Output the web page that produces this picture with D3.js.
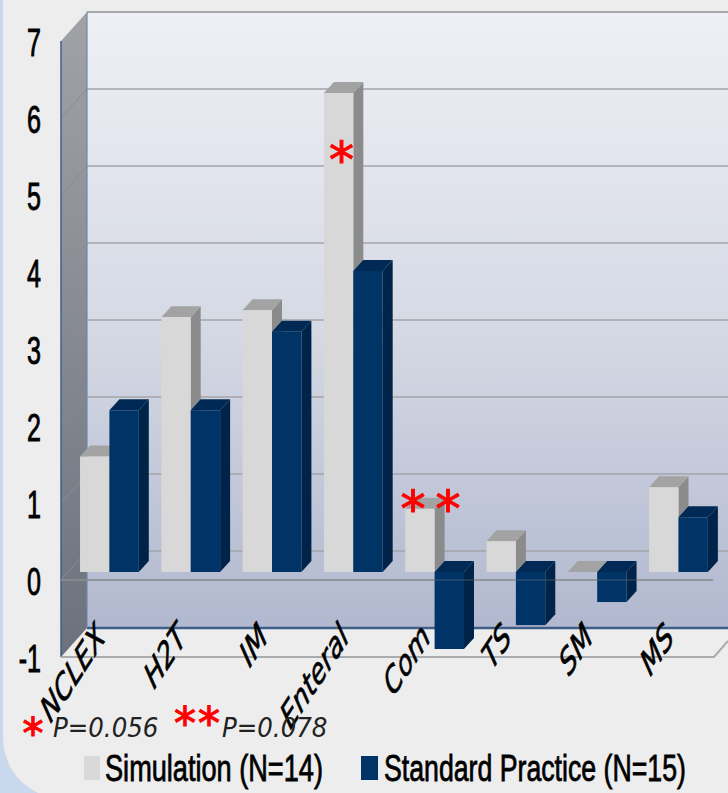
<!DOCTYPE html>
<html><head><meta charset="utf-8">
<script src="https://cdn.jsdelivr.net/npm/d3@7"></script>
<style>html,body{margin:0;padding:0;background:#c9d8ec;overflow:hidden}svg{display:block}</style>
</head><body><svg id="c" width="728" height="793"></svg>
<script>
const categories=["NCLEX","H2T","IM","Enteral","Com","TS","SM","MS"];
const simulation=[1.5,3.31,3.4,6.22,0.82,0.4,0.0,1.1];
const standard=[2.1,2.1,3.12,3.91,-1.0,-0.69,-0.39,0.71];
const yTicks=[-1,0,1,2,3,4,5,6,7];
const seriesNames=["Simulation (N=14)","Standard Practice (N=15)"];
const notes=["P=0.056","P=0.078"];

const svg=d3.select("#c");
const defs=svg.append("defs");
function grad(id,stops){const g=defs.append("linearGradient").attr("id",id).attr("x1",0).attr("y1",0).attr("x2",0).attr("y2",1);
 stops.forEach(s=>g.append("stop").attr("offset",s[0]).attr("stop-color",s[1]));}
grad("wall",[[0,"#eef0f5"],[.5,"#d6dae5"],[1,"#b1b8cf"]]);
grad("side",[[0,"#a0a2a6"],[1,"#6c717d"]]);

// panel
svg.append("path").attr("fill","#ededed")
 .attr("d","M3,0H728V793H38Q3,775 3,735Z");

const y=d3.scaleLinear().domain([-1,7]).range([628,12]); // back wall
const dxWall=-26, dyWall=29;
const dxBar=10, dyBar=-11;
const barShift=21;
const x0=d3.scaleBand().domain(categories).range([71.9,716]).paddingInner(0.277).paddingOuter(0.1);
const x1=d3.scaleBand().domain([0,1]).range([0,x0.bandwidth()]);
const xL=87,xR=728;

svg.append("rect").attr("x",xL).attr("y",y(7)).attr("width",xR-xL).attr("height",y(-1)-y(7)).attr("fill","url(#wall)");
svg.append("line").attr("x1",xL).attr("x2",xR).attr("y1",y(7)).attr("y2",y(7)).attr("stroke","#a6a8ac").attr("stroke-width",2);
svg.selectAll(".g").data(yTicks.filter(d=>d>-1&&d<7)).join("line")
 .attr("x1",xL).attr("x2",xR).attr("y1",d=>y(d)).attr("y2",d=>y(d)).attr("stroke","#a3a5a9").attr("stroke-width",1.4);
svg.append("line").attr("x1",xL).attr("x2",xR).attr("y1",y(-1)).attr("y2",y(-1)).attr("stroke","#3f5f88").attr("stroke-width",2.4);
const pt=(a)=>a.map(p=>p.join(",")).join(" ");
svg.append("polygon").attr("points",pt([[61,y(7)+dyWall],[xL,y(7)],[xL,y(-1)],[61,y(-1)+dyWall]])).attr("fill","url(#side)");
svg.selectAll(".d").data(yTicks.filter(d=>d>-1&&d<7)).join("line")
 .attr("x1",xL).attr("x2",61).attr("y1",d=>y(d)).attr("y2",d=>y(d)+dyWall).attr("stroke","#8a8c90").attr("stroke-width",1);
svg.append("line").attr("x1",61).attr("x2",61).attr("y1",y(7)+dyWall).attr("y2",y(-1)+dyWall).attr("stroke","#3f5f88").attr("stroke-width",1.5);
svg.append("line").attr("x1",xL).attr("x2",xL).attr("y1",y(7)).attr("y2",y(-1)).attr("stroke","#6f88a8").attr("stroke-width",1.2);
svg.append("polyline").attr("fill","none").attr("stroke","#a9abad").attr("stroke-width",2)
 .attr("points",pt([[61,y(-1)+dyWall],[714,y(-1)+dyWall],[728,y(-1)+dyWall-16]]));
svg.append("line").attr("x1",61).attr("x2",713).attr("y1",y(0)+dyWall).attr("y2",y(0)+dyWall).attr("stroke","#8b8d90").attr("stroke-width",1.6);

const colours=[{f:"#d8d8d8",t:"#a3a3a3",s:"#8b8b8b"},{f:"#003366",t:"#002a55",s:"#00234a"}];
function bar(cat,i,v){
 const c=colours[i], xa=x0(cat)+x1(i), xb=xa+x1.bandwidth();
 const yv=y(v)+barShift, y0=y(0)+barShift;
 const top=Math.min(yv,y0), bot=Math.max(yv,y0);
 const g=svg.append("g");
 g.append("polygon").attr("fill",c.s).attr("points",pt([[xb,top],[xb+dxBar,top+dyBar],[xb+dxBar,bot+dyBar],[xb,bot]]));
 g.append("polygon").attr("fill",c.t).attr("points",pt([[xa,top],[xa+dxBar,top+dyBar],[xb+dxBar,top+dyBar],[xb,top]]));
 if(bot>top) g.append("rect").attr("x",xa).attr("y",top).attr("width",xb-xa).attr("height",bot-top).attr("fill",c.f);
}
categories.forEach((c,k)=>{bar(c,0,simulation[k]);bar(c,1,standard[k]);});
svg.append("line").attr("x1",61).attr("x2",713).attr("y1",y(0)+dyWall).attr("y2",y(0)+dyWall).attr("stroke","#8b8d90").attr("stroke-width",1.2).attr("opacity",.45);

// y tick labels, condensed
svg.selectAll(".yt").data(yTicks).join("text")
 .attr("transform",d=>`translate(41,${y(d)+dyWall+14.5}) scale(0.66,1)`)
 .attr("text-anchor","end").attr("fill","#000")
 .attr("font-family","'Liberation Sans',sans-serif").attr("font-size",38).attr("stroke","#000").attr("stroke-width",.9)
 .text(d=>d);

// category labels, stretched vertically
svg.selectAll(".xt").data(categories).join("text")
 .attr("transform",d=>`translate(${x0(d)+x0.bandwidth()/2-3},${y(-1)+11}) scale(0.82,1.25) rotate(-45)`)
 .attr("text-anchor","end").attr("fill","#000").attr("stroke","#000").attr("stroke-width",.6)
 .attr("font-family","'DejaVu Sans',sans-serif").attr("font-style","italic").attr("font-size",29)
 .text(d=>d);

// significance marks
const red=(s,cx,cy,fs)=>svg.append("text").attr("x",cx).attr("y",cy+fs*0.53).attr("text-anchor","middle").attr("fill","#ff0000")
 .attr("stroke","#ff0000").attr("stroke-width",1.1)
 .attr("font-family","'DejaVu Sans',sans-serif").attr("font-size",fs).text(s);
red("*",x0("Enteral")+x1(0)+x1.bandwidth()/2+3,150,50);
red("*",413,499,50);
red("*",448,499,50);
red("*",33,726,42);
red("*",185,716,44);
red("*",209,716,44);
svg.selectAll(".n").data(notes).join("text")
 .attr("transform",(d,i)=>`translate(${[53,222][i]},737) scale(1,1.05)`)
 .attr("font-family","'DejaVu Sans',sans-serif").attr("font-style","italic").attr("font-size",24.5).attr("fill","#222").text(d=>d);

// legend, condensed
const lg=[[84,105,218],[361,384,302]];
seriesNames.forEach((n,i)=>{
 svg.append("rect").attr("x",lg[i][0]).attr("y",756).attr("width",i?17:16).attr("height",24).attr("fill",colours[i].f);
 const t=svg.append("text").attr("fill","#000").attr("font-family","'Liberation Sans',sans-serif")
  .attr("font-size",37).attr("stroke","#000").attr("stroke-width",.8).text(n);
 const k=lg[i][2]/t.node().getComputedTextLength();
 t.attr("transform",`translate(${lg[i][1]},781) scale(${k},1)`);
});
</script></body></html>
